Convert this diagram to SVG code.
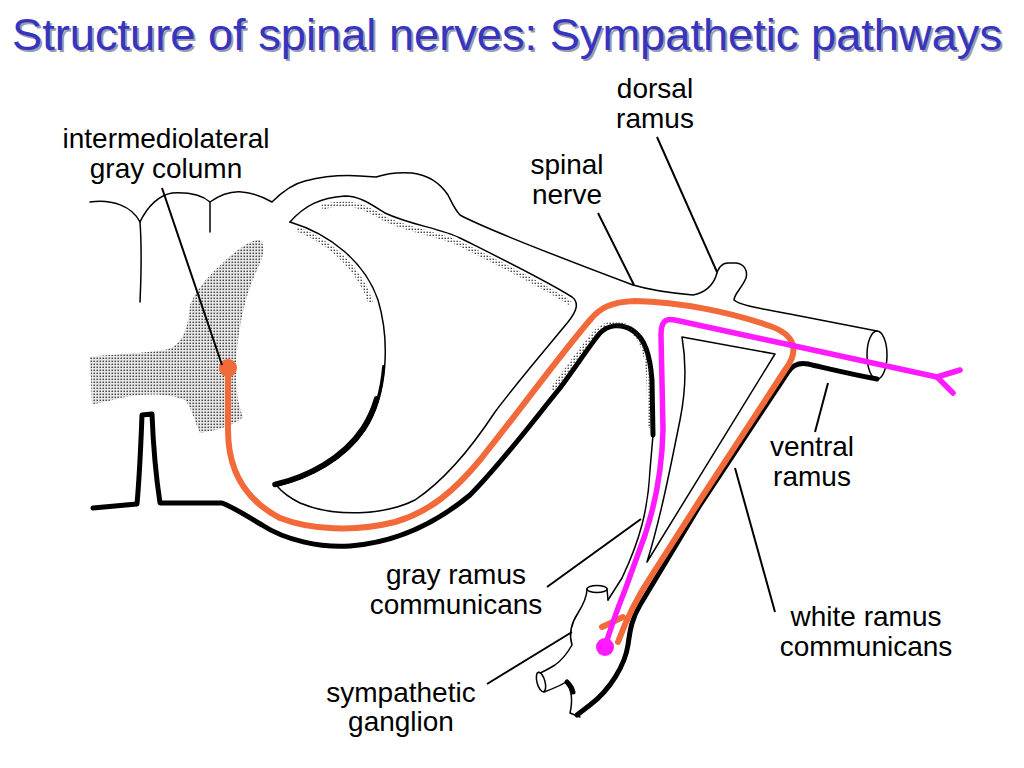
<svg xmlns="http://www.w3.org/2000/svg" width="1024" height="768" viewBox="0 0 1024 768">
  <defs>
    <pattern id="dots" width="3" height="3" patternUnits="userSpaceOnUse">
      <circle cx="1.2" cy="1.2" r="0.8" fill="#222"/>
    </pattern>
    <style>
      .lbl { font-family: "Liberation Sans", Arial, sans-serif; font-size: 28px; fill: #000; text-anchor: middle; }
      .title { font-family: "Liberation Sans", Arial, sans-serif; font-size: 45px; }
      .thin { fill: none; stroke: #000; stroke-width: 1.5; stroke-linejoin: round; stroke-linecap: round; }
      .thick { fill: none; stroke: #000; stroke-width: 5; stroke-linejoin: round; stroke-linecap: round; }
      .stip { fill: none; stroke: url(#dots); stroke-width: 5; }
      .lead { fill: none; stroke: #000; stroke-width: 2; }
      .orange { fill: none; stroke: #F26A3A; stroke-width: 6; stroke-linecap: round; stroke-linejoin: round; }
      .magenta { fill: none; stroke: #FF1AFF; stroke-width: 5.5; stroke-linecap: round; stroke-linejoin: round; }
    </style>
  </defs>
  <rect width="1024" height="768" fill="#fff"/>

  <g id="title">
    <text class="title" x="14" y="52" fill="#9a9ab0" textLength="990" lengthAdjust="spacingAndGlyphs">Structure of spinal nerves: Sympathetic pathways</text>
    <text class="title" x="12" y="50" fill="#3535C0" textLength="990" lengthAdjust="spacingAndGlyphs">Structure of spinal nerves: Sympathetic pathways</text>
  </g>

  <g id="anatomy">
    <!-- gray matter -->
    <path id="gray-matter" d="M260,240 C266,246 264,256 256,272 C248,290 242,310 238,340 C235,365 234,395 243,417 C236,424 220,430 200,433 C194,420 192,408 185,400 C170,394 150,392 120,398 C105,402 95,404 92,404 L90,357 C110,354 140,354 165,350 C182,346 188,330 190,305 C198,285 215,270 228,258 C240,248 250,240 260,240 Z" fill="#e6e6e6"/>
    <path d="M260,240 C266,246 264,256 256,272 C248,290 242,310 238,340 C235,365 234,395 243,417 C236,424 220,430 200,433 C194,420 192,408 185,400 C170,394 150,392 120,398 C105,402 95,404 92,404 L90,357 C110,354 140,354 165,350 C182,346 188,330 190,305 C198,285 215,270 228,258 C240,248 250,240 260,240 Z" fill="url(#dots)"/>

    <!-- top outline of cord, dorsal root, spinal nerve, dorsal ramus, ventral ramus -->
    <path class="thin" d="M90,202 C112,199 132,206 140,222 C148,205 160,195 172,193 C190,192 203,196 210,202 C220,195 232,191 242,192 C256,193 265,198 272,202 C282,192 292,184 305,181 C325,176 345,175 360,176 L376,177 C388,173 400,172 412,173 C428,175 440,183 448,195 C452,203 455,210 460,215 C480,226 540,250 633,285 C650,290 670,293 693,295 C705,293 713,285 716,276 C718,268 722,263 728,263 L736,263 C744,264 748,270 746,278 C742,288 734,294 734,300 C740,306 770,310 800,316 L877,331"/>
    <path class="thin" d="M140,222 C142,250 141,280 140,302"/>
    <path class="thin" d="M210,202 L210,232"/>
    <ellipse class="thin" cx="877" cy="355" rx="10" ry="24"/>

    <!-- big C (dorsal root ganglion outline) -->
    <path class="thin" d="M290,222 C330,234 365,262 378,300 C390,340 388,395 365,430 C345,460 310,478 277,486"/>
    <path d="M384.6,366.9 C382.75,390 376.5,412.5 365,430 C345,460 310,478 277,486" fill="none" stroke="#000" stroke-width="3" stroke-linecap="round" transform="translate(-1,-0.5)"/>
    <path d="M378.6,400.3 C375.4,411.3 370.8,421.3 365,430 C345,460 310,478 277,486" fill="none" stroke="#000" stroke-width="5.5" stroke-linecap="round" transform="translate(-2,-1.5)"/>
    <path class="stip" d="M300,226 C335,240 362,265 374,300" transform="translate(-3,3)" stroke-width="4"/>

    <!-- inner loop: upper stippled edge and lower thin curve -->
    <path class="thin" d="M290,222 C305,205 320,198 345,196 C360,196 372,205 385,213 C410,225 440,228 460,238 C500,258 545,280 572,297 C580,303 576,312 568,322 C545,350 515,385 495,412 C470,450 445,480 415,500 C385,515 335,518 300,503 C290,498 282,492 277,486"/>
    <path class="stip" d="M322,204 C345,198 360,200 385,216 C410,228 440,231 460,241 C500,261 545,283 570,300" transform="translate(0,3)"/>

    <!-- outer lower boundary: cord bottom, ventral root, gray ramus left -->
    <path class="thick" d="M93,508 L137,504 C140,470 141,440 142,415 L152,414 C153,440 155,470 160,503 L222,503 C235,508 245,515 262,525 C285,540 320,548 350,546 C400,542 440,520 470,495 C500,465 530,425 560,388 C575,368 590,345 600,333 C608,325 620,323 632,330 C645,338 650,355 652,380 L653,435" stroke-width="5"/>
    <path class="stip" d="M555,392 C575,365 590,343 600,333 C608,325 620,323 632,330 C645,338 650,355 652,380 L653,430" transform="translate(-3,-2)"/>
    <path class="thin" d="M653,435 L650,470 C648,510 640,540 622,578 L608,600"/>

    <!-- triangle between gray and white rami -->
    <path class="thin" d="M682,337 L775,354 L647,562 C660,520 670,470 680,420 C687,385 686,360 682,337 Z"/>

    <!-- white ramus outer edge and ventral ramus bottom -->
    <path class="thick" d="M877,379 C850,374 830,369 808,364 C798,362 792,366 788,372 L700,505 L640,605 C632,618 630,630 628,645 C625,665 610,690 590,705 L577,715" stroke-width="4.5"/>

    <!-- sympathetic ganglion -->
    <ellipse class="thin" cx="597" cy="589" rx="10" ry="3.5"/>
    <path class="thin" d="M587,589 C587,597 583,605 578,613 C572,622 568,632 572,645 C568,652 562,660 555,665 C550,668 545,671 540,673"/>
    <ellipse class="thin" cx="541" cy="682" rx="4" ry="10" transform="rotate(-15 541 682)"/>
    <path class="thin" d="M544,692 C552,689 560,686 566,682 C572,690 573,700 570,713 L580,717"/>
    <path class="thick" d="M567,682 C570,685 572,688 573,692" stroke-width="3"/>
    <path class="thin" d="M607,589 L608,600"/>
  </g>

  <g id="pathways">
    <path id="preganglionic" class="orange" d="M228,368 L228,430 C228,470 245,500 280,518 C310,530 355,532 395,522 C430,512 455,490 480,460 C520,410 560,355 590,320 C600,308 610,302 635,301 C680,302 730,312 770,326 C795,335 800,350 785,370 L700,500 L650,578 C638,596 628,615 618,642"/>
    <path class="orange" d="M623,617 L602,627" stroke-width="4"/>
    <circle cx="228" cy="368" r="9" fill="#F26A3A"/>
    <path id="postganglionic" class="magenta" d="M605,647 C610,630 615,615 625,590 L645,535 C655,505 662,470 663,430 L661,335 C661,322 665,318 675,320 L937,377"/>
    <path class="magenta" d="M960,370 L937,377 L953,393" stroke-width="4"/>
    <circle cx="605" cy="647" r="9" fill="#FF1AFF"/>
  </g>

  <g id="connectors">
    <line class="lead" x1="657" y1="137" x2="717" y2="272"/>
    <line class="lead" x1="162" y1="188" x2="222" y2="365"/>
    <line class="lead" x1="598" y1="213" x2="634" y2="285"/>
    <line class="lead" x1="828" y1="383" x2="815" y2="432"/>
    <line class="lead" x1="547" y1="587" x2="641" y2="519"/>
    <line class="lead" x1="775" y1="612" x2="735" y2="468"/>
    <line class="lead" x1="487" y1="684" x2="572" y2="632"/>
  </g>

  <g id="label-dorsal-ramus"><text class="lbl" x="655" y="98">dorsal</text><text class="lbl" x="655" y="128">ramus</text></g>
  <g id="label-intermediolateral"><text class="lbl" x="166" y="148">intermediolateral</text><text class="lbl" x="166" y="178">gray column</text></g>
  <g id="label-spinal-nerve"><text class="lbl" x="567" y="174">spinal</text><text class="lbl" x="567" y="204">nerve</text></g>
  <g id="label-ventral-ramus"><text class="lbl" x="812" y="456">ventral</text><text class="lbl" x="812" y="486">ramus</text></g>
  <g id="label-gray-ramus"><text class="lbl" x="456" y="584">gray ramus</text><text class="lbl" x="456" y="614">communicans</text></g>
  <g id="label-white-ramus"><text class="lbl" x="866" y="626">white ramus</text><text class="lbl" x="866" y="656">communicans</text></g>
  <g id="label-ganglion"><text class="lbl" x="401" y="702">sympathetic</text><text class="lbl" x="401" y="731">ganglion</text></g>
</svg>
